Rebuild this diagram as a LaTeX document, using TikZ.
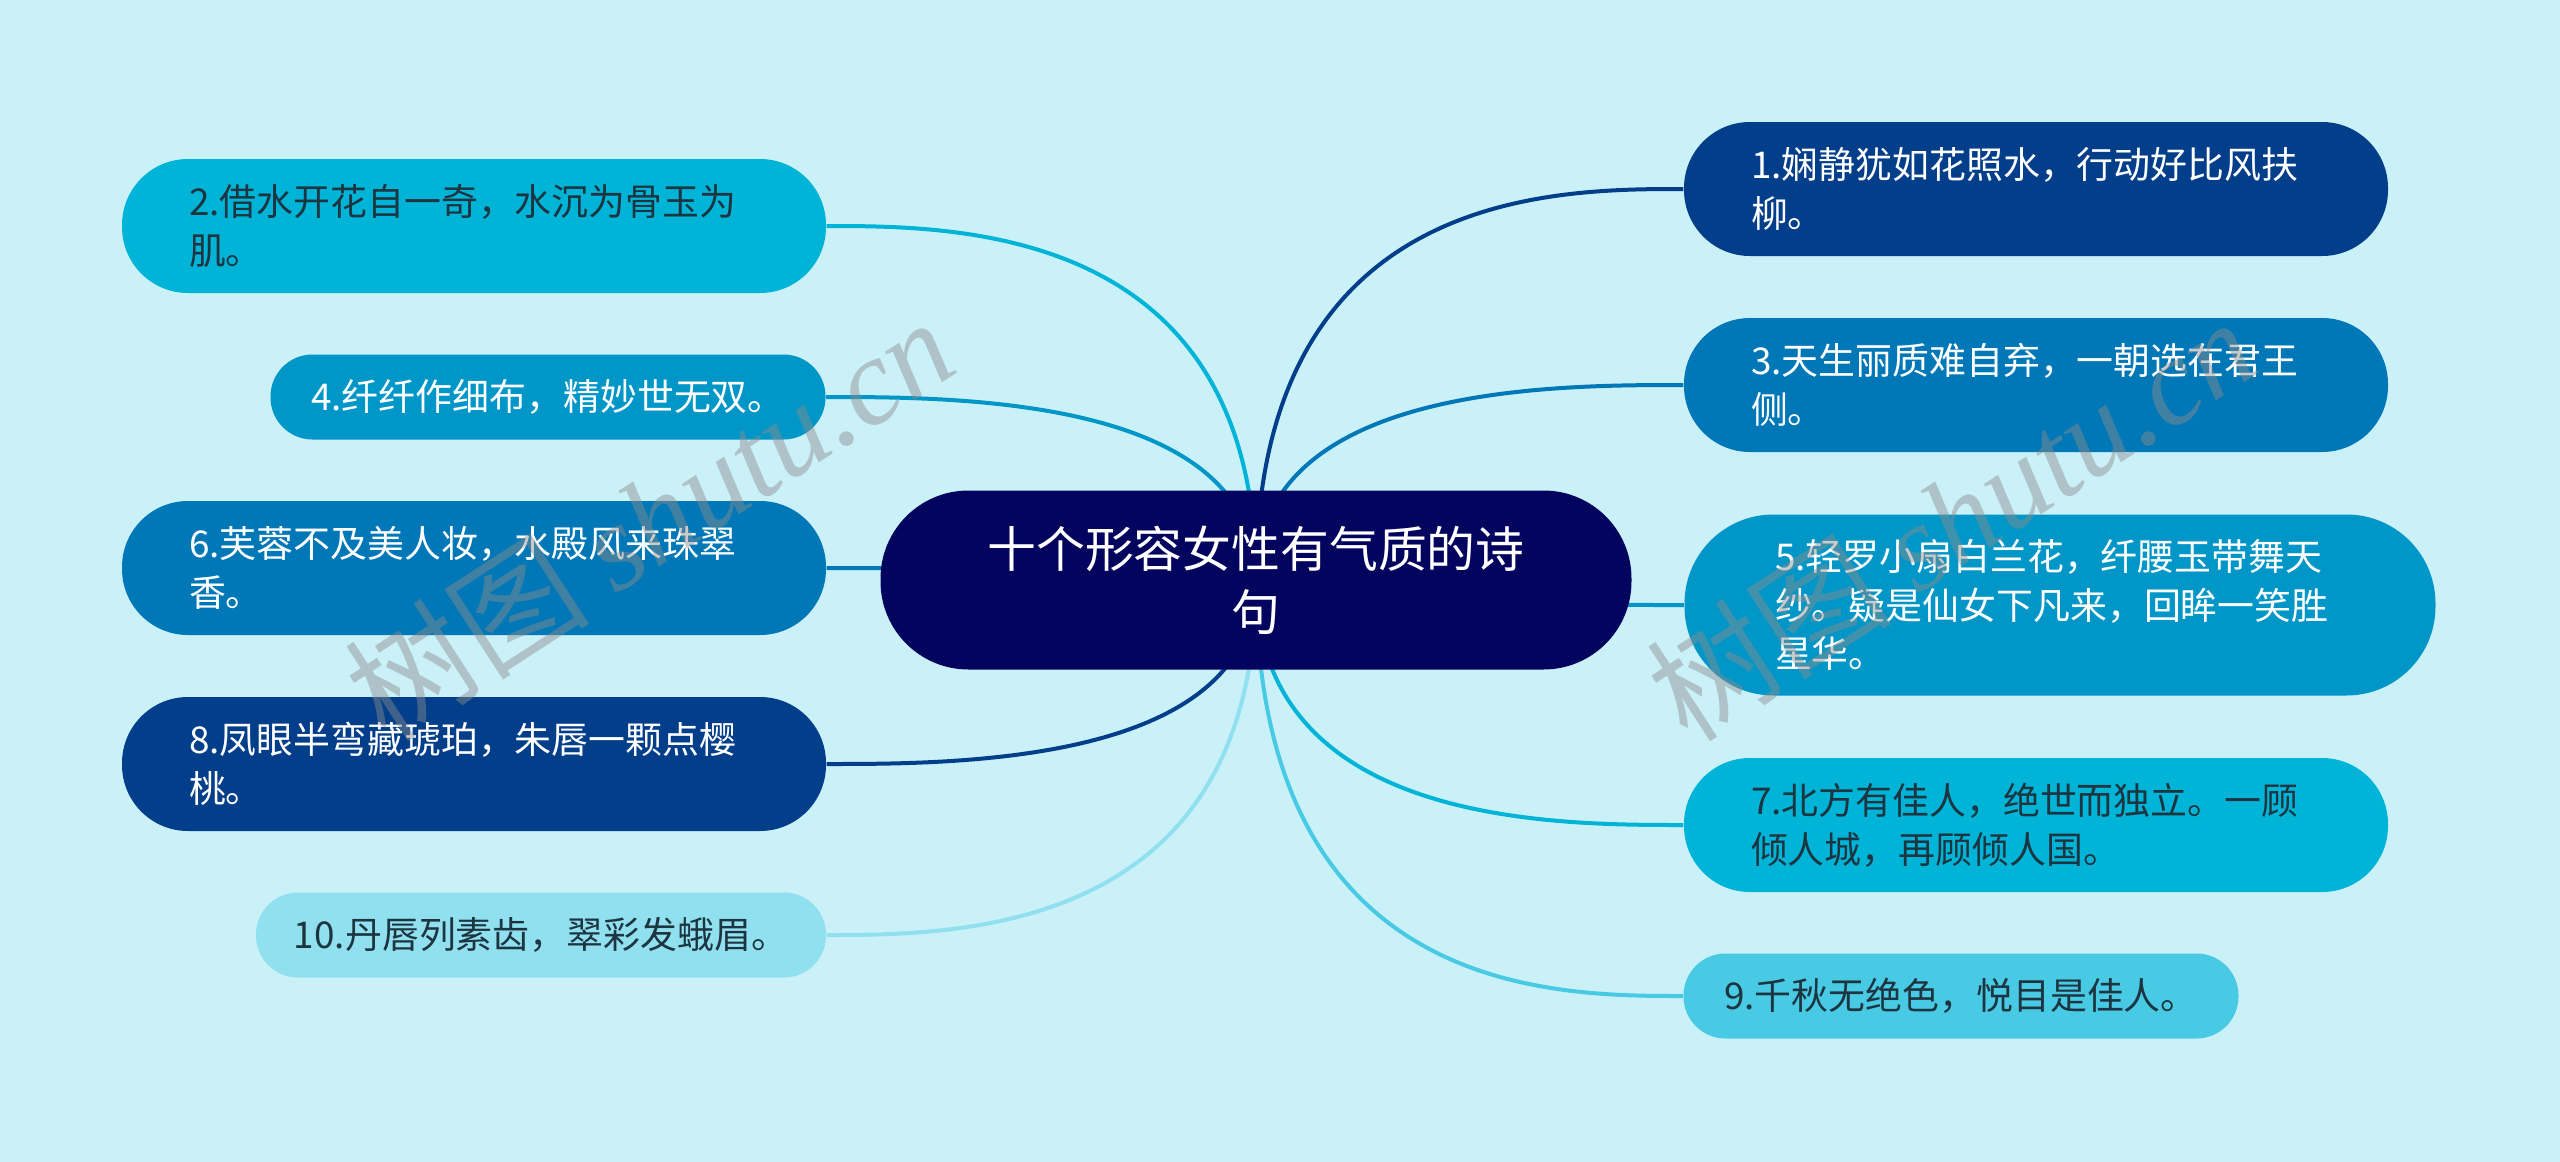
\documentclass[tikz,border=0pt]{standalone}
\usepackage{fontspec}
\newfontfamily\cjk{Noto Sans CJK SC}
\newfontfamily\wmlatin{Liberation Serif}
\usetikzlibrary{calc, backgrounds}
\definecolor{bgcyan}{HTML}{CAF0F8}
\definecolor{navy}{HTML}{03045E}
\definecolor{deepblue}{HTML}{023E8A}
\definecolor{midblue}{HTML}{0077B6}
\definecolor{oceanblue}{HTML}{0096C7}
\definecolor{skyblue}{HTML}{00B4D8}
\definecolor{lightsky}{HTML}{48CAE4}
\definecolor{paleblue}{HTML}{90E0EF}
\definecolor{inkdark}{HTML}{1D3540}
\begin{document}
\begin{tikzpicture}[
    x=0.1mm, y=-0.1mm,
    every node/.style={font=\cjk\fontsize{10.5pt}{13.9pt}\selectfont, inner sep=0pt},
    topic/.style={rectangle, rounded corners=6.6mm,
                  minimum width=70.4mm, minimum height=13.4mm},
    brief/.style={rectangle, rounded corners=4.2mm,
                  minimum width=55.5mm, minimum height=8.5mm},
    lines/.style={text width=57mm, align=left},
    lighttext/.style={text=white},
    darktext/.style={text=inkdark},
    link/.style={line width=0.4mm},
    watermark/.style={text=black!45, opacity=0.45, rotate=33,
                      font=\cjk\fontsize{35pt}{35pt}\selectfont},
]
\useasboundingbox (0,0) rectangle (2560,1162);

% Central topic
\node[rectangle, rounded corners=8.8mm, fill=navy, text=white,
      minimum width=75.1mm, minimum height=17.9mm, align=center,
      font=\cjk\fontsize{13.9pt}{18pt}\selectfont]
    (root) at (1256, 580) {十个形容女性有气质的诗\\句};

% Right branch
\node[topic, lines, fill=deepblue, lighttext] (n1) at (2036, 189)
    {1.娴静犹如花照水，行动好比风扶\\柳。};
\node[topic, lines, fill=midblue, lighttext] (n3) at (2036, 385)
    {3.天生丽质难自弃，一朝选在君王\\侧。};
\node[topic, lines, fill=oceanblue, lighttext, rounded corners=8.9mm,
      minimum width=75.1mm, minimum height=18.1mm] (n5) at (2060, 605)
    {5.轻罗小扇白兰花，纤腰玉带舞天\\纱。疑是仙女下凡来，回眸一笑胜\\星华。};
\node[topic, lines, fill=skyblue, darktext] (n7) at (2036, 825)
    {7.北方有佳人，绝世而独立。一顾\\倾人城，再顾倾人国。};
\node[brief, fill=lightsky, darktext] (n9) at (1961, 996)
    {9.千秋无绝色，悦目是佳人。};

% Left branch
\node[topic, lines, fill=skyblue, darktext] (n2) at (474, 226)
    {2.借水开花自一奇，水沉为骨玉为\\肌。};
\node[brief, fill=oceanblue, lighttext] (n4) at (548, 397)
    {4.纤纤作细布，精妙世无双。};
\node[topic, lines, fill=midblue, lighttext] (n6) at (474, 568)
    {6.芙蓉不及美人妆，水殿风来珠翠\\香。};
\node[topic, lines, fill=deepblue, lighttext] (n8) at (474, 764)
    {8.凤眼半弯藏琥珀，朱唇一颗点樱\\桃。};
\node[brief, fill=paleblue, darktext, minimum width=57mm] (n10) at (541, 935)
    {10.丹唇列素齿，翠彩发蛾眉。};

% Background and curved links behind the nodes
\begin{scope}[on background layer]
  \fill[bgcyan] (0,0) rectangle (2560,1162);
  \foreach \n/\c in {n1/deepblue, n3/midblue, n5/oceanblue, n7/skyblue, n9/lightsky}
    \draw[link, \c] (root.center) .. controls (root.center |- \n.west)
        and ($(\n.west)+(-131,0)$) .. (\n.west);
  \foreach \n/\c in {n2/skyblue, n4/oceanblue, n6/midblue, n8/deepblue, n10/paleblue}
    \draw[link, \c] (root.center) .. controls (root.center |- \n.east)
        and ($(\n.east)+(131,0)$) .. (\n.east);
\end{scope}

% Watermarks
\node[watermark] (wmleft) at (649, 518) {树图 {\wmlatin\itshape shutu.cn}};
\node[watermark] (wmright) at (1951, 518) {树图 {\wmlatin\itshape shutu.cn}};

\end{tikzpicture}
\end{document}
